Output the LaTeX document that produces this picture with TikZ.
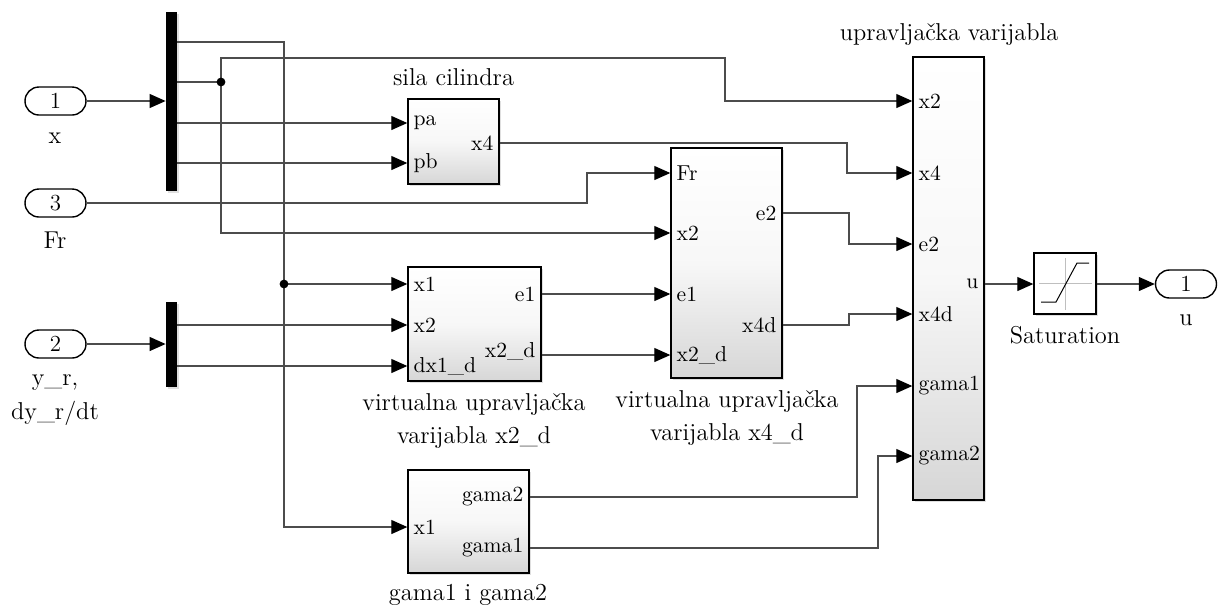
\documentclass[tikz,border=0pt]{standalone}
\usetikzlibrary{arrows.meta,fit,shadows,calc}
\begin{document}
\begin{tikzpicture}[x=0.5pt,y=-0.5pt,
  wire/.style={draw=black!70, line width=0.55pt},
  sig/.style={wire, -{Triangle[length=8pt,width=7pt,color=black]}},
  blk/.style={draw=black, line width=0.7pt, inner sep=0pt,
    top color=white, bottom color=black!16, middle color=black!3,
    drop shadow={shadow xshift=1pt, shadow yshift=-1pt, opacity=0.25}},
  satblk/.style={draw=black, line width=0.7pt, inner sep=0pt, fill=white,
    drop shadow={shadow xshift=1pt, shadow yshift=-1pt, opacity=0.25}},
  muxbar/.style={fill=black, inner sep=0pt,
    drop shadow={shadow xshift=1pt, shadow yshift=-1pt, opacity=0.25}},
  port/.style={draw=black, line width=0.7pt, rounded corners=7pt, minimum width=30.5pt,
    minimum height=14pt, inner sep=0pt, fill=white, font=\fontsize{11.5}{12}\selectfont},
  pl/.style={font=\fontsize{10.8}{12}\selectfont, inner sep=3pt},
  lbl/.style={font=\fontsize{12.2}{15}\selectfont, inner sep=0pt},
  dot/.style={fill=black}
]
\useasboundingbox (0,0) rectangle (1219,606);

% ---- ports
\node[port] (in1) at (55.5,101) {1};
\node[port] (in3) at (55.5,203) {3};
\node[port] (in2) at (55.5,344) {2};
\node[port] (out1) at (1186,284) {1};
\node[lbl] (lx) at (55,138) {x};
\node[lbl] (lfr) at (55,240) {Fr};
\node[lbl] (lyr) at (55,383) {y\_r,};
\node[lbl] (ldyr) at (55,413) {dy\_r/dt};
\node[lbl] (lu) at (1186,320) {u};

% ---- muxes
\node[muxbar, fit={(166,12)(177,191)}] (mux1) {};
\node[muxbar, fit={(166,302)(177,387)}] (mux2) {};

% ---- blocks
\node[blk, fit={(408,99)(499,184)}] (sila) {};
\node[lbl] (lsila) at (453.5,77) {sila cilindra};
\node[blk, fit={(408,267)(541,381)}] (vx2) {};
\node[lbl] (lvx2a) at (474,405) {virtualna upravljačka};
\node[lbl] (lvx2b) at (474,438) {varijabla x2\_d};
\node[blk, fit={(671,148)(782,378)}] (vx4) {};
\node[lbl] (lvx4a) at (727,402) {virtualna upravljačka};
\node[lbl] (lvx4b) at (727,435) {varijabla x4\_d};
\node[blk, fit={(408,470)(529,573)}] (gam) {};
\node[lbl] (lgam) at (468,595) {gama1 i gama2};
\node[blk, fit={(913,57)(984,500)}] (ctl) {};
\node[lbl] (lctl) at (949,35) {upravljačka varijabla};
\node[satblk, fit={(1034,253)(1096,314)}] (sat) {};
\node[lbl] (lsat) at (1065,335) {Saturation};

% saturation icon
\draw[black!25, line width=0.5pt] (1039,283) -- (1092,283) (1065,258) -- (1065,310);
\draw[black, line width=0.5pt] (1041,302) -- (1056,302) -- (1077,263) -- (1089,263);

% ---- port coordinates
\coordinate (sila-pa) at (sila.west |- 0,123);
\coordinate (sila-pb) at (sila.west |- 0,163);
\coordinate (sila-x4) at (sila.east |- 0,143);
\coordinate (vx2-x1) at (vx2.west |- 0,284);
\coordinate (vx2-x2) at (vx2.west |- 0,325);
\coordinate (vx2-dx) at (vx2.west |- 0,366);
\coordinate (vx2-e1) at (vx2.east |- 0,294);
\coordinate (vx2-x2d) at (vx2.east |- 0,355);
\coordinate (vx4-fr) at (vx4.west |- 0,173);
\coordinate (vx4-x2) at (vx4.west |- 0,233);
\coordinate (vx4-e1) at (vx4.west |- 0,294);
\coordinate (vx4-x2d) at (vx4.west |- 0,355);
\coordinate (vx4-e2) at (vx4.east |- 0,213);
\coordinate (vx4-x4d) at (vx4.east |- 0,325);
\coordinate (gam-x1) at (gam.west |- 0,527);
\coordinate (gam-g2) at (gam.east |- 0,497);
\coordinate (gam-g1) at (gam.east |- 0,548);
\coordinate (ctl-x2) at (ctl.west |- 0,101);
\coordinate (ctl-x4) at (ctl.west |- 0,173);
\coordinate (ctl-e2) at (ctl.west |- 0,244);
\coordinate (ctl-x4d) at (ctl.west |- 0,314);
\coordinate (ctl-g1) at (ctl.west |- 0,386);
\coordinate (ctl-g2) at (ctl.west |- 0,456);
\coordinate (ctl-u) at (ctl.east |- 0,284);
\coordinate (m1o1) at (mux1.east |- 0,42);
\coordinate (m1o2) at (mux1.east |- 0,82);
\coordinate (m1o3) at (mux1.east |- 0,123);
\coordinate (m1o4) at (mux1.east |- 0,163);
\coordinate (m2o1) at (mux2.east |- 0,325);
\coordinate (m2o2) at (mux2.east |- 0,366);

% ---- port labels
\node[pl, anchor=west] at (sila-pa) {pa};
\node[pl, anchor=west] at (sila-pb) {pb};
\node[pl, anchor=east] at (sila-x4) {x4};
\node[pl, anchor=west] at (vx2-x1) {x1};
\node[pl, anchor=west] at (vx2-x2) {x2};
\node[pl, anchor=west] at (vx2-dx) {dx1\_d};
\node[pl, anchor=east] at (vx2-e1) {e1};
\node[pl, anchor=east] at ($(vx2-x2d)+(0,-4)$) {x2\_d};
\node[pl, anchor=west] at (vx4-fr) {Fr};
\node[pl, anchor=west] at (vx4-x2) {x2};
\node[pl, anchor=west] at (vx4-e1) {e1};
\node[pl, anchor=west] at (vx4-x2d) {x2\_d};
\node[pl, anchor=east] at (vx4-e2) {e2};
\node[pl, anchor=east] at (vx4-x4d) {x4d};
\node[pl, anchor=west] at (gam-x1) {x1};
\node[pl, anchor=east] at (gam-g2) {gama2};
\node[pl, anchor=east] at (gam-g1) {gama1};
\node[pl, anchor=west] at (ctl-x2) {x2};
\node[pl, anchor=west] at (ctl-x4) {x4};
\node[pl, anchor=west] at (ctl-e2) {e2};
\node[pl, anchor=west] at (ctl-x4d) {x4d};
\node[pl, anchor=west] at (ctl-g1) {gama1};
\node[pl, anchor=west] at (ctl-g2) {gama2};
\node[pl, anchor=east] at (ctl-u) {u};

% ---- junctions and bends
\coordinate (j1) at (221,82);
\coordinate (j2) at (284,284);
\coordinate (b1) at (725,58);
\coordinate (b2) at (587,173);
\coordinate (b3) at (847,173);
\coordinate (b4) at (849,244);
\coordinate (b5) at (849,314);
\coordinate (b6) at (857,386);
\coordinate (b7) at (878,456);

% ---- connectors
\draw[sig] (in1.east) -- (mux1.west |- in1);
\draw[sig] (in2.east) -- (mux2.west |- in2);
\draw[sig] (in3.east) -- (in3.east -| b2) -- (b2) -- (vx4-fr);
\draw[sig] (m1o1) -- (m1o1 -| j2) -- (j2 |- gam-x1) -- (gam-x1);
\draw[sig] (j2) -- (vx2-x1);
\draw[wire] (m1o2) -- (j1);
\draw[sig] (j1) -- (j1 |- b1) -- (b1) -- (b1 |- ctl-x2) -- (ctl-x2);
\draw[sig] (j1) -- (j1 |- vx4-x2) -- (vx4-x2);
\draw[sig] (m1o3) -- (sila-pa);
\draw[sig] (m1o4) -- (sila-pb);
\draw[sig] (m2o1) -- (vx2-x2);
\draw[sig] (m2o2) -- (vx2-dx);
\draw[sig] (sila-x4) -- (sila-x4 -| b3) -- (b3) -- (ctl-x4);
\draw[sig] (vx2-e1) -- (vx4-e1);
\draw[sig] (vx2-x2d) -- (vx4-x2d);
\draw[sig] (vx4-e2) -- (vx4-e2 -| b4) -- (b4) -- (ctl-e2);
\draw[sig] (vx4-x4d) -- (vx4-x4d -| b5) -- (b5) -- (ctl-x4d);
\draw[sig] (gam-g2) -- (gam-g2 -| b6) -- (b6) -- (ctl-g1);
\draw[sig] (gam-g1) -- (gam-g1 -| b7) -- (b7) -- (ctl-g2);
\draw[sig] (ctl-u) -- (sat.west |- ctl-u);
\draw[sig] (sat.east |- ctl-u) -- (out1.west);
\fill[dot] (j1) circle[radius=2.2pt];
\fill[dot] (j2) circle[radius=2.2pt];
\end{tikzpicture}
\end{document}
